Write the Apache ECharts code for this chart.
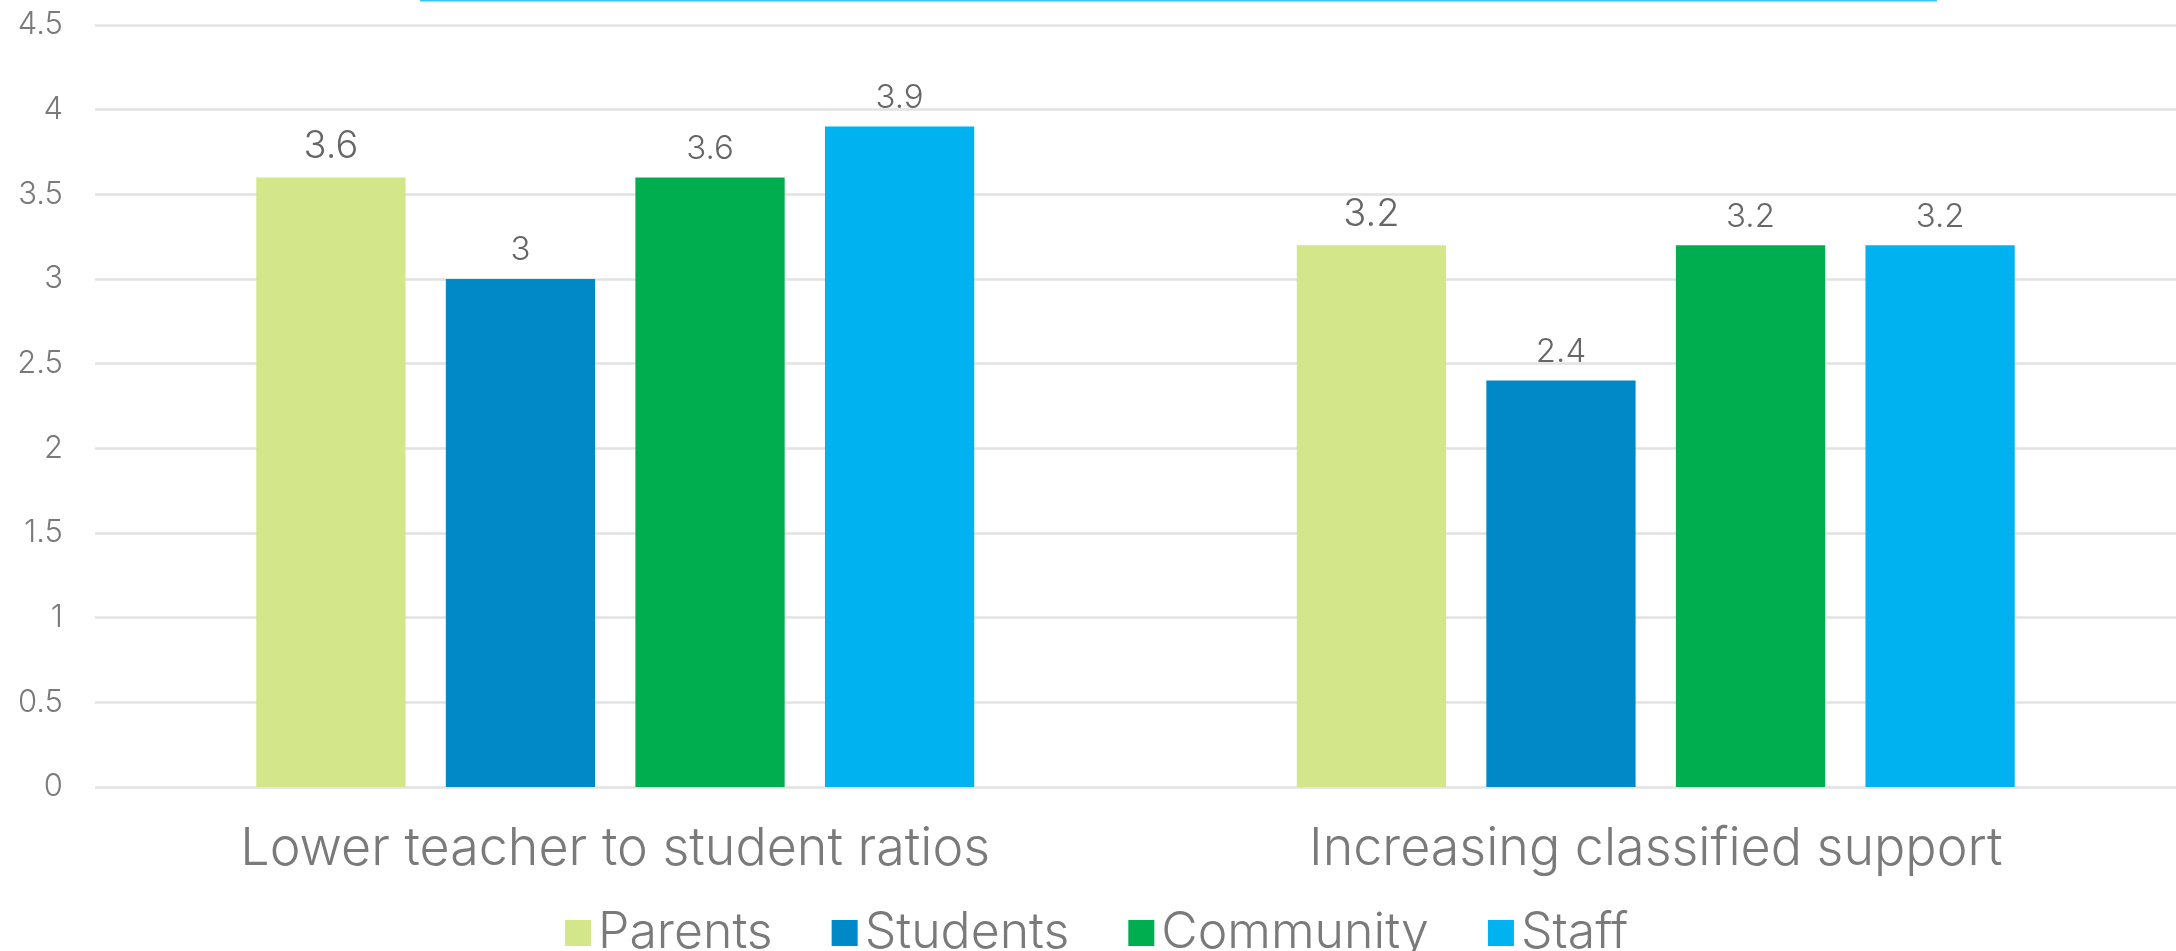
<!DOCTYPE html>
<html>
<head>
<meta charset="utf-8">
<title>Priorities by group</title>
<script src="https://cdn.jsdelivr.net/npm/echarts@6/dist/echarts.min.js"></script>
<style>
  html, body { margin: 0; padding: 0; background: #ffffff; }
  #chart { width: 2176px; height: 951px; }
</style>
</head>
<body>
<div id="chart"></div>
<script>
// Categories and average scores for each respondent group
const categories = ['Lower teacher to student ratios', 'Increasing classified support'];
const parents   = [3.6, 3.2];
const students  = [3.0, 2.4];
const community = [3.6, 3.2];
const staff     = [3.9, 3.2];
const groupNames = ['Parents', 'Students', 'Community', 'Staff'];

const FONT = 'Inter, "Open Sans", sans-serif';
const colors = ['#d3e68a', '#0088c7', '#00ae4f', '#00b2f0'];
const labelSizes = [38, 33, 33, 33];

const chart = echarts.init(document.getElementById('chart'), null, { renderer: 'canvas' });

const seriesData = [parents, students, community, staff];
const series = seriesData.map((vals, i) => ({
  name: groupNames[i],
  type: 'bar',
  data: vals,
  barGap: '27%',
  barCategoryGap: '31%',
  itemStyle: { color: colors[i] },
  label: {
    show: true,
    position: 'top',
    distance: 12,
    color: '#666666',
    fontFamily: FONT,
    fontWeight: 300,
    fontSize: labelSizes[i]
  },
  emphasis: { disabled: true }
}));

chart.setOption({
  animation: false,
  color: colors,
  textStyle: { fontFamily: FONT },
  grid: { left: 95, right: 0, top: 25, bottom: 164, containLabel: false },
  legend: {
    data: groupNames,
    left: 560,
    top: 903,
    itemWidth: 26,
    itemHeight: 26,
    itemGap: 59,
    icon: 'rect',
    textStyle: { fontSize: 50, color: '#7a7a7a', fontFamily: FONT, fontWeight: 300, padding: [0, 0, 0, 2] }
  },
  xAxis: {
    type: 'category',
    data: categories,
    axisLine: { show: false },
    axisTick: { show: false },
    axisLabel: {
      margin: 36,
      fontSize: 52,
      color: '#7a7a7a',
      fontFamily: FONT,
      fontWeight: 300
    }
  },
  yAxis: {
    type: 'value',
    min: 0,
    max: 4.5,
    interval: 0.5,
    axisLine: { show: false },
    axisTick: { show: false },
    splitLine: { lineStyle: { color: '#e2e2e2', width: 2.5 } },
    axisLabel: {
      margin: 32,
      fontSize: 31,
      color: '#7a7a7a',
      fontFamily: FONT,
      fontWeight: 300
    }
  },
  graphic: [{
    type: 'rect',
    shape: { x: 420, y: 0, width: 1517, height: 1.5 },
    style: { fill: '#3cc4f5' },
    silent: true
  }],
  series: series
});
</script>
</body>
</html>
